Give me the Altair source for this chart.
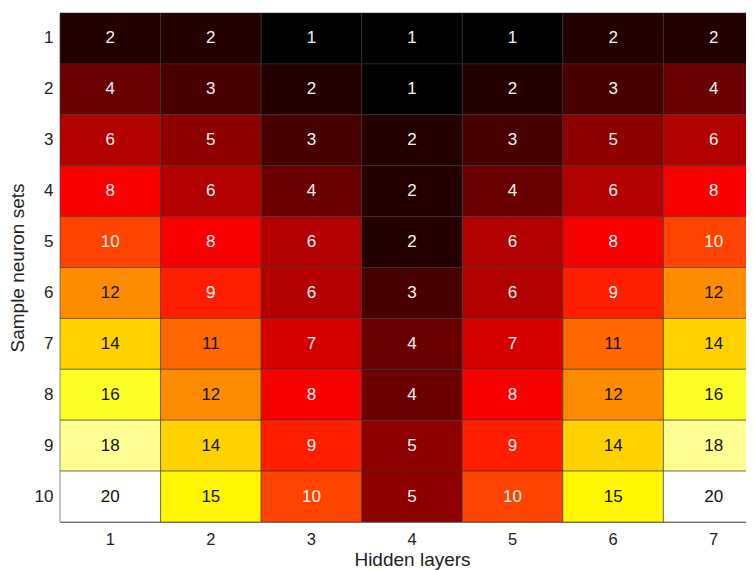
import altair as alt
import pandas as pd

layers = [1, 2, 3, 4, 5, 6, 7]
sets = [1, 2, 3, 4, 5, 6, 7, 8, 9, 10]
values = [
    [2, 2, 1, 1, 1, 2, 2],
    [4, 3, 2, 1, 2, 3, 4],
    [6, 5, 3, 2, 3, 5, 6],
    [8, 6, 4, 2, 4, 6, 8],
    [10, 8, 6, 2, 6, 8, 10],
    [12, 9, 6, 3, 6, 9, 12],
    [14, 11, 7, 4, 7, 11, 14],
    [16, 12, 8, 4, 8, 12, 16],
    [18, 14, 9, 5, 9, 14, 18],
    [20, 15, 10, 5, 10, 15, 20],
]

rows = []
for i, s in enumerate(sets):
    for j, l in enumerate(layers):
        rows.append({"layer": l, "set": s, "value": values[i][j]})
df = pd.DataFrame(rows)

FONT = "Liberation Sans"

x = alt.X("layer:O", title="Hidden layers",
          axis=alt.Axis(labelAngle=0, ticks=False, labelPadding=9, labelFontSize=16.5,
                        titleFontSize=19, titlePadding=3, domain=False,
                        labelColor="#222", titleColor="#222", titleFontWeight="normal"),
          scale=alt.Scale(paddingInner=0, paddingOuter=0, range=[0, 704]))
y = alt.Y("set:O", title="Sample neuron sets",
          axis=alt.Axis(ticks=False, labelPadding=7, labelFontSize=17,
                        titleFontSize=19, titlePadding=7, domain=False,
                        labelColor="#222", titleColor="#222", titleFontWeight="normal"),
          scale=alt.Scale(paddingInner=0, paddingOuter=0))

color = alt.Color("value:Q", legend=None,
                  scale=alt.Scale(domain=[1, 8.125, 15.25, 20],
                                  range=["#000000", "#ff0000", "#ffff00", "#ffffff"],
                                  interpolate="rgb"))

rect = alt.Chart(df).mark_rect(stroke="#333333", strokeWidth=0.8, strokeOpacity=0.7).encode(
    x=x, y=y, color=color
)
text = alt.Chart(df).mark_text(fontSize=17, font=FONT).encode(
    x=alt.X("layer:O"), y=alt.Y("set:O"),
    text="value:Q",
    color=alt.condition(alt.datum.value > 10, alt.value("#111111"), alt.value("#f4f4f4")),
)

chart = (rect + text).properties(
    width=686, height=509,
    autosize=alt.AutoSizeParams(type="none"),
    padding={"left": 52, "top": 5, "right": 0, "bottom": 52},
).configure(font=FONT).configure_view(stroke="#8a8a8a", strokeWidth=1)

chart.save("out.html", embed_options={"renderer": "svg", "actions": False})
